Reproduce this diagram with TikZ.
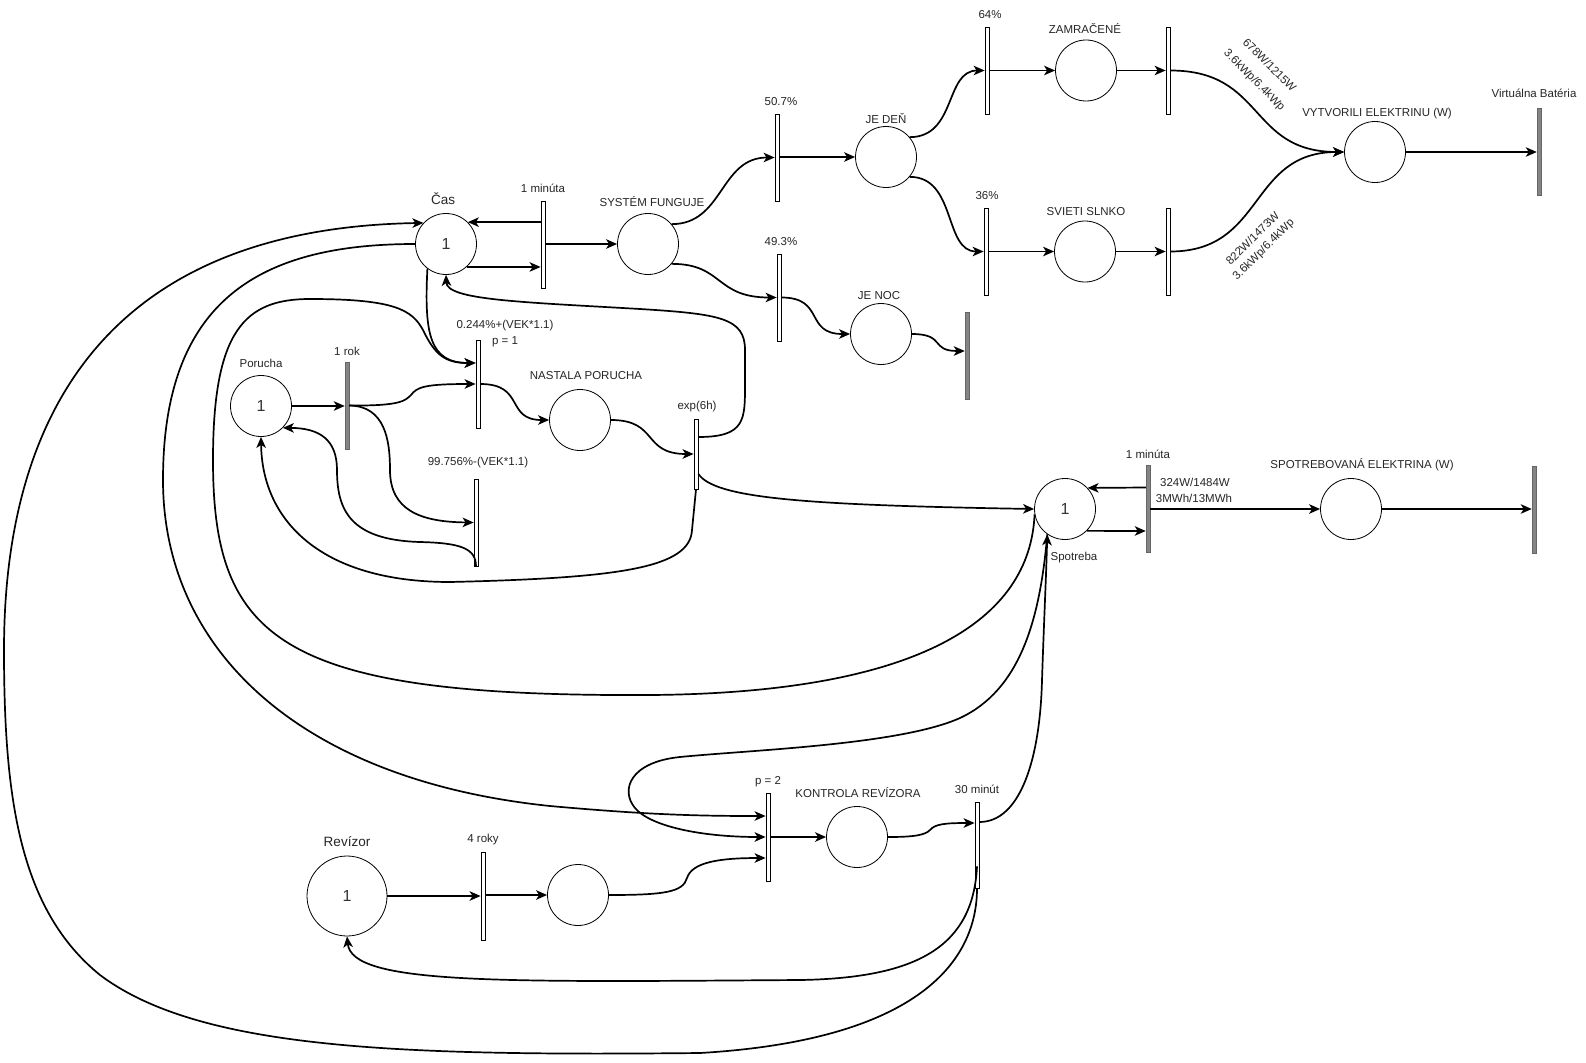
\documentclass[tikz,border=0pt]{standalone}
\usepackage{fontspec}
\setmainfont{Liberation Sans}
\usetikzlibrary{arrows.meta}
\begin{document}
\begin{tikzpicture}[x=1pt,y=-1pt,
  place/.style={circle, draw=black, line width=0.8pt, fill=white, minimum size=61pt, inner sep=0pt, font=\fontsize{16}{16}\selectfont, text=black!80},
  bigplace/.style={place, minimum size=80pt},
  wtr/.style={rectangle, draw=black, line width=0.8pt, fill=white, minimum width=4pt, minimum height=87pt, inner sep=0pt},
  gtr/.style={rectangle, draw=black!60, line width=0.5pt, fill=black!48, minimum width=4pt, minimum height=87pt, inner sep=0pt},
  lbl/.style={inner sep=0pt, font=\fontsize{11.5}{13}\selectfont, text=black!85},
  biglbl/.style={inner sep=0pt, font=\fontsize{13.5}{15}\selectfont, text=black!85},
  arr/.style={line width=1.7pt, -{Stealth[length=11pt,width=9.5pt,inset=3pt]}},
  ln/.style={line width=1.7pt}
]
\useasboundingbox (0,0) rectangle (1586,1062);
\fill[white] (0,0) rectangle (1586,1062);

% ---------- places ----------
\node[place] (cas) at (446,244) {1};
\node[biglbl] (caslbl) at (443,199) {Čas};
\node[place] (sf) at (648,244) {};
\node[lbl] (sflbl) at (652,202) {SYSTÉM FUNGUJE};
\node[place] (jeden) at (886,157) {};
\node[lbl] (jedenlbl) at (886,119) {JE DEŇ};
\node[place] (jenoc) at (881,334) {};
\node[lbl] (jenoclbl) at (879,296) {JE NOC};
\node[place] (zam) at (1086,70.5) {};
\node[lbl] (zamlbl) at (1085,29) {ZAMRAČENÉ};
\node[place] (sviet) at (1085,251.5) {};
\node[lbl] (svietlbl) at (1086,212) {SVIETI SLNKO};
\node[place] (vytv) at (1375,152) {};
\node[lbl] (vytvlbl) at (1377,114) {VYTVORILI ELEKTRINU (W)};
\node[place] (por) at (261,406) {1};
\node[lbl] (porlbl) at (261,363) {Porucha};
\node[place] (nast) at (580,420) {};
\node[lbl] (nastlbl) at (586,376) {NASTALA PORUCHA};
\node[place] (spot) at (1065,509) {1};
\node[lbl] (spotlbl) at (1074,558) {Spotreba};
\node[place] (spotel) at (1351,509) {};
\node[lbl] (spotellbl) at (1362,465) {SPOTREBOVANÁ ELEKTRINA (W)};
\node[bigplace] (rev) at (347,896) {1};
\node[biglbl] (revlbl) at (347,842) {Revízor};
\node[place] (revmid) at (578,895) {};
\node[place] (kontr) at (857,837) {};
\node[lbl] (kontrlbl) at (858,793) {KONTROLA REVÍZORA};

% ---------- transitions ----------
\node[wtr] (t1m) at (543,244.5) {};
\node[lbl] (t1mlbl) at (543,188) {1 minúta};
\node[wtr] (t507) at (777,157.5) {};
\node[lbl] (t507lbl) at (781,102) {50.7\%};
\node[wtr] (t493) at (779,297.5) {};
\node[lbl] (t493lbl) at (781,242) {49.3\%};
\node[gtr] (tnoc) at (967,355.5) {};
\node[wtr] (t64) at (987,70.5) {};
\node[lbl] (t64lbl) at (990,15) {64\%};
\node[wtr] (t36) at (986,251.5) {};
\node[lbl] (t36lbl) at (987,196) {36\%};
\node[wtr] (tz) at (1168,70.5) {};
\node[wtr] (ts) at (1168,251.5) {};
\node[gtr] (tvb) at (1539,151.5) {};
\node[lbl] (tvblbl) at (1534,93) {Virtuálna Batéria};
\node[lbl, rotate=-45, align=center] (wz) at (1261.5,73) {678W/1215W\\[8pt]3.6kWp/6.4kWp};
\node[lbl, rotate=45, align=center] (ws) at (1258.5,244.5) {822W/1473W\\[2pt]3.6kWp/6.4kWp};
\node[gtr] (trok) at (347,405.5) {};
\node[lbl] (troklbl) at (347,351) {1 rok};
\node[wtr, minimum height=88pt] (t244) at (478,384) {};
\node[lbl] (t244lbla) at (505,326) {0.244\%+(VEK*1.1)};
\node[lbl] (t244lblb) at (505,342) {p = 1};
\node[wtr, minimum height=70pt] (t6h) at (696,454) {};
\node[lbl] (t6hlbl) at (697,407) {exp(6h)};
\node[wtr] (t997) at (476,522.5) {};
\node[lbl] (t997lbl) at (478,463) {99.756\%-(VEK*1.1)};
\node[gtr] (tsp) at (1148,508.5) {};
\node[lbl] (tsplbl) at (1148,454) {1 minúta};
\node[lbl] (tspw1) at (1195,482) {324W/1484W};
\node[lbl] (tspw2) at (1194,498) {3MWh/13MWh};
\node[gtr] (tend) at (1534,509.5) {};
\node[wtr, minimum height=88pt] (t4r) at (483,896) {};
\node[lbl] (t4rlbl) at (483,840) {4 roky};
\node[wtr, minimum height=88pt] (tp2) at (768,837) {};
\node[lbl] (tp2lbl) at (768,782) {p = 2};
\node[wtr, minimum height=86pt] (t30) at (977,845) {};
\node[lbl] (t30lbl) at (977,789) {30 minút};

% ---------- arcs: top part ----------
\draw[arr] (t1m.west |- cas.45) -- (cas.45);
\draw[arr] (cas.-48) -- (t1m.west |- cas.-48);
\draw[arr] (t1m.east |- sf.west) -- (sf.west);
\draw[arr] (sf.40) .. controls +(52,0) and +(-55,0) .. (t507.west);
\draw[arr] (sf.-40) .. controls +(52,0) and +(-62,0) .. (t493.west);
\draw[arr] (t507.east |- jeden.west) -- (jeden.west);
\draw[arr] (t493.east) .. controls +(44,0) and +(-46,0) .. (jenoc.west);
\draw[arr] (jenoc.east) .. controls +(34,0) and +(-35,0) .. ([yshift=4.5pt]tnoc.west);
\draw[arr] (jeden.40) .. controls +(47,0) and +(-40,0) .. (t64.west);
\draw[arr] (jeden.-40) .. controls +(47,0) and +(-40,0) .. (t36.west);
\draw[arr] (t64.east) -- (zam.west);
\draw[arr] (zam.east) -- (tz.west);
\draw[arr] (t36.east) -- (sviet.west);
\draw[arr] (sviet.east) -- (ts.west);
\draw[arr] (tz.east) .. controls +(95,0) and +(-96,0) .. (vytv.west);
\draw[arr] (ts.east) .. controls +(95,0) and +(-96,0) .. (vytv.west);
\draw[arr] (vytv.east) -- (tvb.west |- vytv.east);

% ---------- Porucha part ----------
\draw[arr] (por.east) -- (trok.west |- por.east);
\draw[arr] (trok.east) .. controls (400,406) and (405,401) .. (411,395)
   .. controls (417,387) and (425,384) .. (t244.west);
\draw[arr] (trok.east) .. controls (385,406) and (390,440) .. (390,470)
   .. controls (390,510) and (420,522) .. (t997.west);
\draw[arr] (t244.east) .. controls +(45,0) and +(-44,0) .. (nast.west);
\draw[arr] (nast.east) .. controls +(48,0) and +(-52,0) .. (t6h.west);
\draw[arr] ([yshift=17pt]t6h.east) .. controls (745,437) and (745,420) .. (745,385)
   -- (745,350) .. controls (745,318) and (720,314) .. (640,309)
   .. controls (520,302) and (447,300) .. (cas.south);
\draw[arr] ([yshift=-20pt]t6h.east) .. controls (715,498) and (800,505) .. (spot.west);
\draw[arr] (t6h.south) -- (692,530) .. controls (690,568) and (620,578) .. (450,582)
   .. controls (320,582) and (262,520) .. (por.south);
\draw[arr] (t997.south) .. controls (476,548) and (460,543) .. (420,542)
   .. controls (350,540) and (337,510) .. (337,470)
   .. controls (337,440) and (320,428) .. (por.-45);
\draw[arr] (cas.233) .. controls (424,335) and (430,363) .. ([yshift=21pt]t244.west);
\draw[arr] (spot.190) .. controls (1030,620) and (920,693) .. (650,695)
   .. controls (280,697) and (213,640) .. (213,460)
   .. controls (213,330) and (245,299) .. (310,299)
   .. controls (395,299) and (412,310) .. (423,330)
   .. controls (435,355) and (445,363) .. ([yshift=21pt]t244.west);

% ---------- Spotreba part ----------
\draw[arr] ([yshift=21pt]tsp.west) -- (spot.43);
\draw[arr] (spot.-45) -- ([yshift=-22.5pt]tsp.west);
\draw[arr] (tsp.east |- spotel.west) -- (spotel.west);
\draw[arr] (spotel.east) -- (tend.west |- spotel.east);

% ---------- Revizor part ----------
\draw[arr] (cas.west) .. controls (260,244) and (163,300) .. (163,480)
   .. controls (163,650) and (300,780) .. (550,806)
   .. controls (650,815) and (700,816) .. ([yshift=21pt]tp2.west);
\draw[arr] (spot.235) .. controls (1040,620) and (1020,690) .. (960,718)
   .. controls (900,745) and (750,750) .. (680,757)
   .. controls (630,762) and (620,790) .. (635,808)
   .. controls (650,826) and (700,837) .. (tp2.west);
\draw[arr] (rev.east) -- (t4r.west |- rev.east);
\draw[arr] (t4r.east |- revmid.west) -- (revmid.west);
\draw[arr] (revmid.east) .. controls (665,895) and (683,892) .. (687,878)
   .. controls (692,862) and (720,858) .. ([yshift=-21pt]tp2.west);
\draw[arr] (tp2.east) -- (kontr.west);
\draw[arr] (kontr.east) .. controls (915,837) and (925,835) .. (930,830)
   .. controls (935,824) and (945,823) .. ([yshift=22pt]t30.west);
\draw[arr] ([yshift=23pt]t30.east) .. controls (1020,822) and (1040,760) .. (1042,680)
   .. controls (1044,620) and (1046,580) .. (spot.235);
\draw[arr] ([yshift=22pt]t30.south) .. controls (973,945) and (920,978) .. (800,980)
   .. controls (500,982) and (352,985) .. (rev.south);
\draw[arr] (t30.south) .. controls (977,960) and (920,1040) .. (700,1053)
   .. controls (400,1056) and (200,1050) .. (100,975)
   .. controls (20,910) and (4,800) .. (4,650)
   .. controls (4,400) and (120,228) .. (cas.137);
\end{tikzpicture}
\end{document}
